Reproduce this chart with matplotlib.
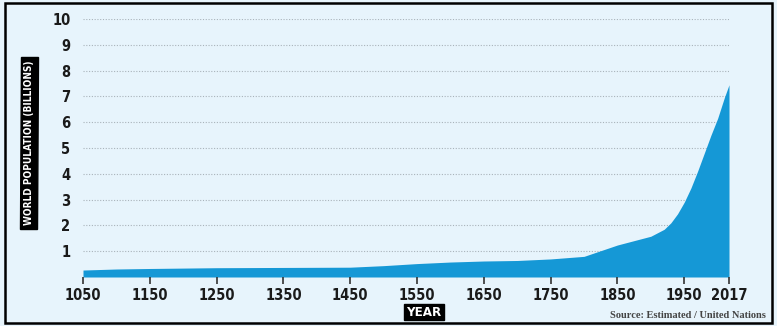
import matplotlib
matplotlib.use("Agg")
from matplotlib import pyplot as plt
from matplotlib.patches import Rectangle

# World population estimates (billions)
years = [1050, 1100, 1150, 1250, 1350, 1450, 1500, 1550, 1600, 1650, 1700,
         1750, 1800, 1850, 1900, 1920, 1930, 1940, 1950, 1960, 1970, 1980,
         1990, 2000, 2010, 2017]
population = [0.27, 0.31, 0.33, 0.36, 0.37, 0.38, 0.44, 0.52, 0.58, 0.62, 0.64,
              0.70, 0.80, 1.24, 1.58, 1.85, 2.10, 2.45, 2.90, 3.45, 4.10, 4.80,
              5.50, 6.15, 6.95, 7.45]

x_ticks = [1050, 1150, 1250, 1350, 1450, 1550, 1650, 1750, 1850, 1950, 2017]
y_ticks = [1, 2, 3, 4, 5, 6, 7, 8, 9, 10]

bg = "#e7f4fc"
fill_color = "#1598d6"

W, H = 777, 326
fig = plt.figure(figsize=(W / 100, H / 100), dpi=100, facecolor=bg)
ax = fig.add_axes([83 / W, 49 / H, (729 - 83) / W, 258 / H])
ax.set_facecolor(bg)

ax.fill_between(years, population, 0, color=fill_color, linewidth=0)

ax.set_xlim(1050, 2017)
ax.set_ylim(0, 10)

# Dotted horizontal gridlines
for v in y_ticks:
    ax.axhline(v, color="#a9b3ba", linestyle=(0, (1, 1.5)), linewidth=0.8, zorder=0)

for s in ax.spines.values():
    s.set_visible(False)

tick_font = dict(fontsize=10.5, fontweight="heavy", fontstretch="condensed",
                 family="DejaVu Sans", color="#1a1a1a")

ax.set_xticks(x_ticks)
ax.set_xticklabels([str(t) for t in x_ticks], **tick_font)
ax.tick_params(axis="x", length=5, width=1.2, color="#333333", pad=3)

ax.set_yticks(y_ticks)
ax.set_yticklabels([str(t) for t in y_ticks], **tick_font)
ax.tick_params(axis="y", length=0, pad=9)

# Black-boxed axis labels
fig.text(29 / W, 1 - 143 / H, "WORLD POPULATION (BILLIONS)", rotation=90,
         ha="center", va="center", color="white", fontsize=7.2, fontweight="bold",
         fontstretch="condensed", family="DejaVu Sans",
         bbox=dict(boxstyle="square,pad=0.35", facecolor="black", edgecolor="black"))
fig.text(424 / W, 1 - 312 / H, "YEAR", ha="center", va="center", color="white",
         fontsize=9.5, fontweight="bold", fontstretch="condensed", family="DejaVu Sans",
         bbox=dict(boxstyle="square,pad=0.15", facecolor="black", edgecolor="black"))

fig.text(766 / W, 1 - 316 / H, "Source: Estimated / United Nations", ha="right",
         va="center", color="#444444", fontsize=7.5, fontweight="bold",
         family=["Liberation Serif", "DejaVu Serif"])

# Outer frame
fig.patches.append(Rectangle((5 / W, 3 / H), (772 - 5) / W, (323 - 3) / H,
                             transform=fig.transFigure, fill=False,
                             edgecolor="black", linewidth=1.8))

fig.savefig("out.png", dpi=100, facecolor=bg)
